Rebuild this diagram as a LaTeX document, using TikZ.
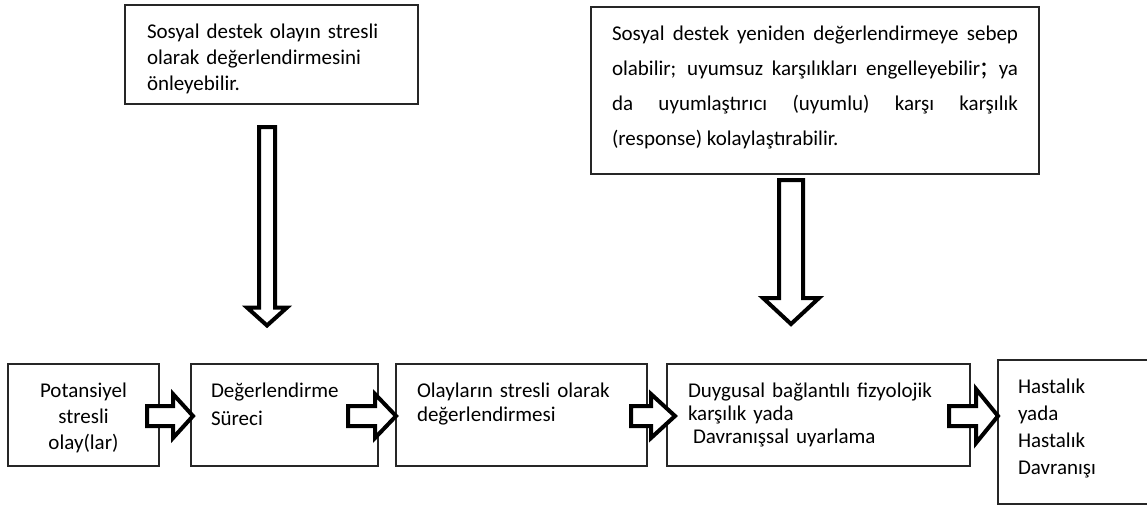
\documentclass[tikz,border=0pt]{standalone}
\usepackage{fontspec}
\setmainfont{Carlito}
\usetikzlibrary{positioning,calc}

\begin{document}
\begin{tikzpicture}[x=1pt,y=-1pt,
box/.style={draw=black!85,line width=1.1pt,outer sep=0pt,align=left,inner ysep=18pt,text height=15pt,font=\fontsize{21}{25}\selectfont},
harrow/.style n args={3}{line width=4pt,fill=white,to path={let \p1=(\tikztostart),\p2=(\tikztotarget) in
  (\x1,{\y1-#1pt}) -- ({\x2-#3pt},{\y1-#1pt}) -- ({\x2-#3pt},{\y1-#2pt}) -- (\x2,\y1)
  -- ({\x2-#3pt},{\y1+#2pt}) -- ({\x2-#3pt},{\y1+#1pt}) -- (\x1,{\y1+#1pt}) -- cycle}},
varrow/.style n args={3}{line width=4pt,fill=white,to path={let \p1=(\tikztostart),\p2=(\tikztotarget) in
  ({\x1-#1pt},\y1) -- ({\x1-#1pt},{\y2+#3pt}) -- ({\x1-#2pt},{\y2+#3pt}) -- (\x1,\y2)
  -- ({\x1+#2pt},{\y2+#3pt}) -- ({\x1+#1pt},{\y2+#3pt}) -- ({\x1+#1pt},\y1) -- cycle}}]
\useasboundingbox (0,0) rectangle (1147,507);

\node[box,anchor=north west,text width=249pt,inner xsep=22pt,text depth=48pt,
  font=\fontsize{21}{26}\selectfont] (t1) at (125,5)
  {Sosyal destek olayın stresli\\olarak değerlendirmesini\\önleyebilir.};
\node[box,anchor=north west,align=justify,text width=406pt,inner xsep=21pt,text depth=116pt,
  font=\fontsize{21}{35}\selectfont] (t2) at (591,7)
  {Sosyal destek yeniden değerlendirmeye sebep\linebreak
   olabilir; uyumsuz karşılıkları engelleyebilir{\fontsize{28}{28}\selectfont;} ya\linebreak
   da uyumlaştırıcı (uyumlu) karşı karşılık\linebreak
   (response) kolaylaştırabilir.};

\node[box,anchor=north west,align=center,text width=135pt,inner xsep=8pt,text depth=51pt,
  font=\fontsize{21}{26}\selectfont] (b1) at (8,364) {Potansiyel\\stresli\\olay(lar)};
\node[box,right=32pt of b1,text width=147pt,inner xsep=20pt,text depth=51pt,
  font=\fontsize{21}{28}\selectfont] (b2) {Değerlendirme\\Süreci};
\node[box,right=18pt of b2,text width=209pt,inner xsep=21pt,text depth=51pt,
  font=\fontsize{21}{24}\selectfont] (b3) {Olayların stresli olarak\\değerlendirmesi};
\node[box,right=20pt of b3,text width=261pt,inner xsep=21pt,text depth=51pt,
  font=\fontsize{21}{23}\selectfont] (b4)
  {Duygusal bağlantılı fizyolojik\\karşılık yada\\\hspace*{5pt}Davranışsal uyarlama};
\node[box,draw=none,right=28pt of b4.north east,anchor=north west,yshift=4pt,text width=170pt,
  inner xsep=20pt,text depth=93pt,font=\fontsize{21}{27}\selectfont] (b5)
  {Hastalık\\yada\\Hastalık\\Davranışı};
\draw[draw=black!85,line width=1.1pt] (b5.north east) -| (b5.south west) -- (b5.south east);

\foreach \ua/\ub/\ds/\dt/\hw/\hl in {b1/b2/-12/2/22/20,b2/b3/-30/0/22/21,b3/b4/-16/8/22/24,b4/b5/-21/0/27/22}
  \draw[harrow={10}{\hw}{\hl}] ($(\ua.east)+(\ds,1)$) to ($(\ub.west)+(\dt,1)$);

\draw[varrow={8}{20}{18}] ($(t1.south)+(-4.5,23)$) to ($(b2.north)+(-17.5,-38.5)$);
\draw[varrow={12}{28}{26}] ($(t2.south)+(-24,6)$) to ($(b4.north)+(-28,-40)$);
\end{tikzpicture}
\end{document}
